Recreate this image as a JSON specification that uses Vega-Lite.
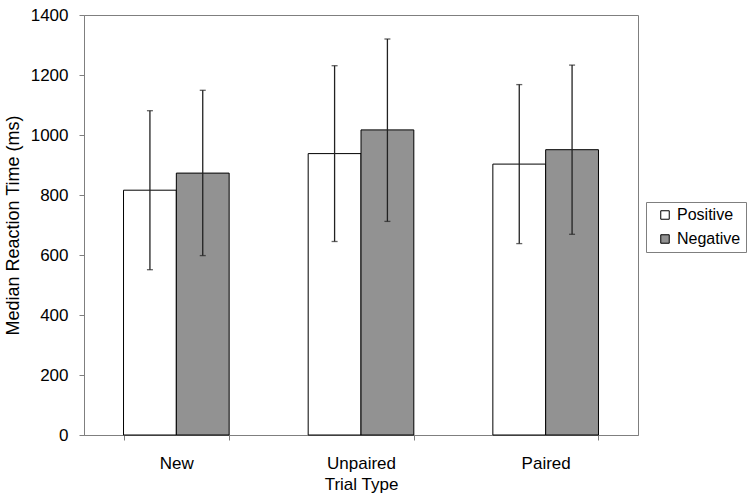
{
  "$schema": "https://vega.github.io/schema/vega-lite/v6.json",
  "width": 554,
  "height": 420,
  "autosize": {"type": "none"},
  "padding": {"left": 84, "top": 15, "right": 112, "bottom": 63},
  "background": "white",
  "config": {
    "font": "Liberation Sans",
    "view": {"stroke": "#7f7f7f", "strokeWidth": 1}
  },
  "data": {
    "values": [
      {"type": "New", "valence": "Positive", "median": 816, "lo": 551, "hi": 1081},
      {"type": "New", "valence": "Negative", "median": 873, "lo": 598, "hi": 1149},
      {"type": "Unpaired", "valence": "Positive", "median": 938, "lo": 645, "hi": 1231},
      {"type": "Unpaired", "valence": "Negative", "median": 1017, "lo": 712, "hi": 1320},
      {"type": "Paired", "valence": "Positive", "median": 903, "lo": 638, "hi": 1168},
      {"type": "Paired", "valence": "Negative", "median": 951, "lo": 669, "hi": 1233}
    ]
  },
  "encoding": {
    "x": {
      "field": "type",
      "type": "nominal",
      "sort": ["New", "Unpaired", "Paired"],
      "scale": {"paddingInner": 0.428, "paddingOuter": 0.214},
      "axis": {
        "title": "Trial Type",
        "titleFontSize": 17,
        "titleFontWeight": "normal",
        "titleColor": "black",
        "titlePadding": 5,
        "labelFontSize": 17,
        "labelColor": "black",
        "labelAngle": 0,
        "labelPadding": 15,
        "tickBand": "extent",
        "tickSize": 5,
        "tickColor": "#7f7f7f",
        "domainColor": "#7f7f7f"
      }
    },
    "xOffset": {"field": "valence", "type": "nominal", "sort": ["Positive", "Negative"]}
  },
  "layer": [
    {
      "mark": {"type": "bar", "stroke": "black", "strokeWidth": 1},
      "encoding": {
        "y": {
          "field": "median",
          "type": "quantitative",
          "scale": {"domain": [0, 1400]},
          "axis": {
            "title": "Median Reaction Time (ms)",
            "titleFontSize": 18,
            "titleFontWeight": "normal",
            "titleColor": "black",
            "titlePadding": 8,
            "labelFontSize": 17,
            "labelColor": "black",
            "format": "d",
            "values": [0, 200, 400, 600, 800, 1000, 1200, 1400],
            "grid": false,
            "tickSize": 5,
            "tickColor": "#7f7f7f",
            "domainColor": "#7f7f7f",
            "labelPadding": 11
          }
        },
        "fill": {
          "field": "valence",
          "type": "nominal",
          "scale": {"domain": ["Positive", "Negative"], "range": ["white", "#929292"]},
          "legend": {
            "title": null,
            "orient": "none",
            "legendX": 562,
            "legendY": 187,
            "strokeColor": "#7f7f7f",
            "padding": 5,
            "symbolOffset": 6,
            "symbolType": "square",
            "symbolSize": 72,
            "symbolStrokeColor": "black",
            "symbolStrokeWidth": 1,
            "labelFontSize": 16,
            "labelColor": "black",
            "labelOffset": 4,
            "rowPadding": 8
          }
        }
      }
    },
    {
      "mark": {"type": "rule", "color": "#222222", "strokeWidth": 1.3},
      "encoding": {
        "y": {"field": "lo", "type": "quantitative"},
        "y2": {"field": "hi"}
      }
    },
    {
      "mark": {"type": "tick", "color": "#222222", "size": 6, "thickness": 1.3},
      "encoding": {"y": {"field": "lo", "type": "quantitative"}}
    },
    {
      "mark": {"type": "tick", "color": "#222222", "size": 6, "thickness": 1.3},
      "encoding": {"y": {"field": "hi", "type": "quantitative"}}
    }
  ]
}
